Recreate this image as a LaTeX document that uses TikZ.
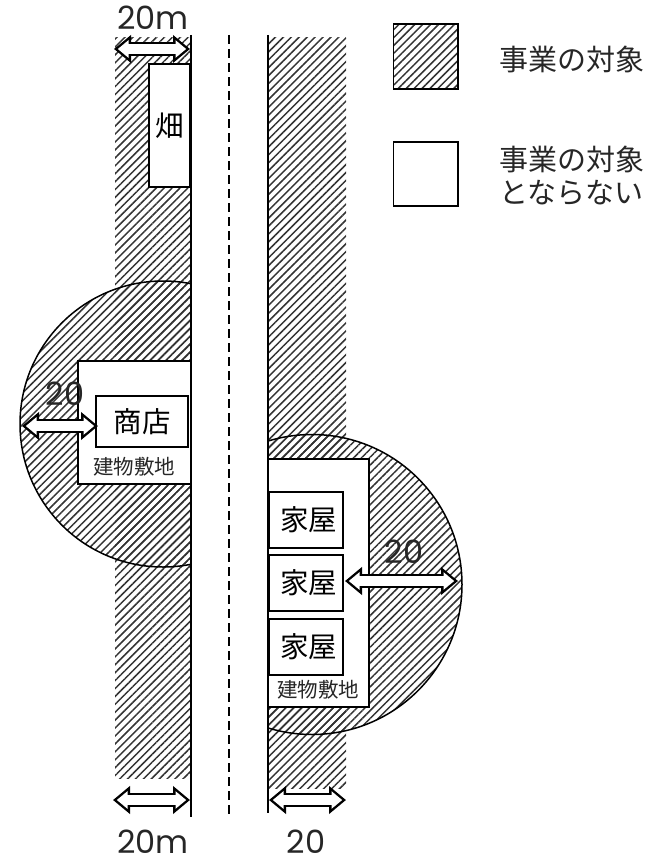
\documentclass[tikz,border=0pt]{standalone}
\usepackage{fontspec}
\setmainfont{Noto Sans CJK JP}
\newfontfamily\numfont{Poppins}
\usetikzlibrary{patterns.meta,arrows.meta}
\tikzset{
  every hatched area/.style={pattern={Lines[angle=45,distance=5.6pt,line width=1.5pt]},pattern color=black!80},
  site box/.style={draw,line width=1.7pt,fill=white,inner sep=0pt,font=\fontsize{28.5}{28.5}\selectfont},
  site label/.style={inner sep=0pt,font=\fontsize{20.5}{20.5}\selectfont,text=black!85},
  length label/.style={inner sep=0pt,text height=22pt,text depth=0pt,font=\numfont\fontsize{32}{32}\selectfont,text=black!85},
  legend label/.style={inner sep=0pt,align=left,anchor=west,font=\fontsize{29}{33}\selectfont,text=black!85},
  road line/.style={line width=1.9pt},
  length arrow/.style={
    line width=14pt,{Triangle[width=27pt,length=17pt]}-{Triangle[width=27pt,length=17pt]},
    postaction={draw=white,line width=9.5pt,shorten >=3.8pt,shorten <=3.8pt,
      {Triangle[width=17pt,length=10.7pt]}-{Triangle[width=17pt,length=10.7pt]}}
  },
}
\begin{document}
\begin{tikzpicture}[x=1pt,y=-1pt]
\useasboundingbox (0,0) rectangle (665,859);
% hatched strips and circles
\fill[every hatched area] (115,38) rectangle (191,778);
\fill[every hatched area] (268,38) rectangle (346,788);
\begin{scope}
  \clip (0,270) rectangle (191,580);
  \draw[every hatched area,line width=1.5pt] (163,424) circle (143);
\end{scope}
\begin{scope}
  \clip (268,420) rectangle (480,750);
  \draw[every hatched area,line width=1.5pt] (312,584.5) circle (150);
\end{scope}
% road
\draw[road line] (191,35) -- (191,817);
\draw[road line] (268,35) -- (268,813);
\draw[road line,dash pattern=on 9pt off 5pt] (229,35) -- (229,815);
% field, sites and buildings
\node (field) [site box,minimum width=41pt,minimum height=123pt] at (169.5,125.5) {畑};
\node (leftsite) [site box,minimum width=113pt,minimum height=123pt] at (134.5,422.5) {};
\node (shop) [site box,minimum width=92pt,minimum height=51pt] at (142,421.5) {商店};
\node (leftsitelabel) [site label] at (134,467) {建物敷地};
\node (rightsite) [site box,minimum width=101pt,minimum height=248pt] at (318.5,583) {};
\foreach \n/\y in {a/520,b/583,c/647} {
  \node (house\n) [site box,minimum width=74pt,minimum height=56pt] at (306,\y) {\hspace*{5pt}家屋};
}
\node (rightsitelabel) [site label] at (318,690) {建物敷地};
% length arrows
\coordinate (topL) at (114,49);
\coordinate (topR) at (190,49);
\coordinate (botLL) at (113,800);
\coordinate (botLR) at (190,800);
\coordinate (botRL) at (269,800);
\coordinate (botRR) at (346,800);
\coordinate (shopL) at (22,426);
\coordinate (shopR) at (98,426);
\coordinate (houseR) at (458,581);
\coordinate (houseL) at (345,581);
\draw[length arrow] (topL) -- (topR);
\draw[length arrow] (botLL) -- (botLR);
\draw[length arrow] (botRL) -- (botRR);
\draw[length arrow] (shopL) -- (shopR);
\draw[length arrow] (houseL) -- (houseR);
% length labels
\node (toplabel) [length label] at (153,19) {20m};
\node (botllabel) [length label] at (153,842) {20m};
\node (botrlabel) [length label] at (306,842) {20};
\node (shoplabel) [length label] at (65,394) {20};
\node (houselabel) [length label] at (404,552) {20};
% legend
\draw[every hatched area,line width=1.7pt] (393.5,24) rectangle (458,89);
\draw[line width=1.7pt] (393.5,142) rectangle (458,206);
\node (legendA) [legend label] at (499,59) {事業の対象};
\node (legendB) [legend label] at (499,176) {事業の対象\\とならない};
\end{tikzpicture}
\end{document}
